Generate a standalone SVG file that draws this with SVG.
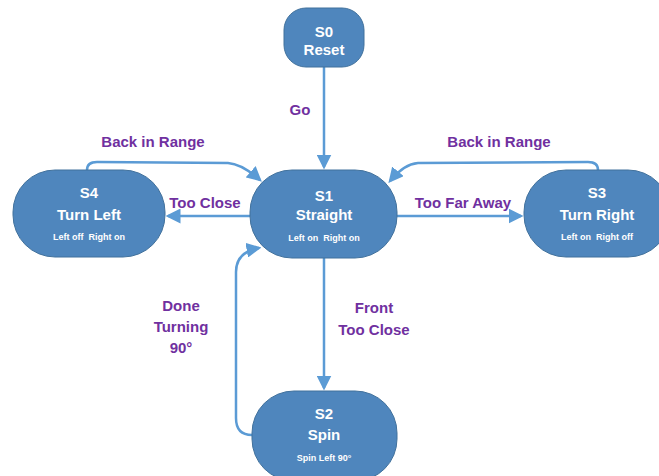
<svg xmlns="http://www.w3.org/2000/svg" width="659" height="476" viewBox="0 0 659 476">
<style>
.node{fill:#4f86bd;stroke:#41719c;stroke-width:1}
.t{font-family:"Liberation Sans",Arial,sans-serif;font-weight:bold;fill:#fff;text-anchor:middle;font-size:15px}
.s{font-family:"Liberation Sans",Arial,sans-serif;font-weight:bold;fill:#fff;text-anchor:middle;font-size:9px;white-space:pre}
.lbl{font-family:"Liberation Sans",Arial,sans-serif;font-weight:bold;fill:#7030a0;text-anchor:middle;font-size:15px}
.c{fill:none;stroke:#5b9bd5;stroke-width:2.5;marker-end:url(#ah)}
</style>
<defs>
<marker id="ah" markerWidth="6" markerHeight="6" refX="5" refY="3" orient="auto" markerUnits="strokeWidth" viewBox="0 0 6 6">
<path d="M0,0 L6,3 L0,6 z" fill="#5b9bd5"/>
</marker>
</defs>
<rect width="659" height="476" fill="#fff"/>
<g id="connectors">
<path class="c" d="M324,67 L324,167"/>
<path class="c" d="M250,216 L168,216"/>
<path class="c" d="M397,216 L521,216"/>
<path class="c" d="M324,258 L324,388"/>
<path class="c" d="M87,170 Q87,162 97,162 L228,163 Q242,164 260,180"/>
<path class="c" d="M598,170 Q598,162 588,162 L418,163 Q404,164 390,181"/>
<path class="c" d="M252,435 Q236,435 236,418 L236,272 Q236,252 259,248"/>
</g>
<g id="S0"><rect class="node" x="284" y="8" width="80" height="59" rx="22" ry="22"/>
<text class="t" x="324" y="37">S0</text><text class="t" x="324" y="55">Reset</text></g>
<g id="S1"><rect class="node" x="250" y="170" width="147" height="88" rx="42" ry="42"/>
<text class="t" x="324" y="201">S1</text><text class="t" x="324" y="220">Straight</text><text class="s" x="324" y="241">Left on  Right on</text></g>
<g id="S4"><rect class="node" x="13" y="170" width="152" height="87" rx="42" ry="42"/>
<text class="t" x="89" y="198">S4</text><text class="t" x="89" y="220">Turn Left</text><text class="s" x="89" y="240">Left off  Right on</text></g>
<g id="S3"><rect class="node" x="524" y="170" width="146" height="87" rx="42" ry="42"/>
<text class="t" x="597" y="198">S3</text><text class="t" x="597" y="220">Turn Right</text><text class="s" x="597" y="240">Left on  Right off</text></g>
<g id="S2"><rect class="node" x="252" y="391" width="145" height="90" rx="42" ry="42"/>
<text class="t" x="324" y="419">S2</text><text class="t" x="324" y="440">Spin</text><text class="s" x="324" y="461">Spin Left 90°</text></g>
<g id="labels">
<text class="lbl" x="300" y="115">Go</text>
<text class="lbl" x="153" y="147">Back in Range</text>
<text class="lbl" x="499" y="147">Back in Range</text>
<text class="lbl" x="205" y="208">Too Close</text>
<text class="lbl" x="463" y="208">Too Far Away</text>
<text class="lbl" x="374" y="313">Front</text>
<text class="lbl" x="374" y="335">Too Close</text>
<text class="lbl" x="181" y="311">Done</text>
<text class="lbl" x="181" y="332">Turning</text>
<text class="lbl" x="181" y="353">90°</text>
</g>
</svg>
